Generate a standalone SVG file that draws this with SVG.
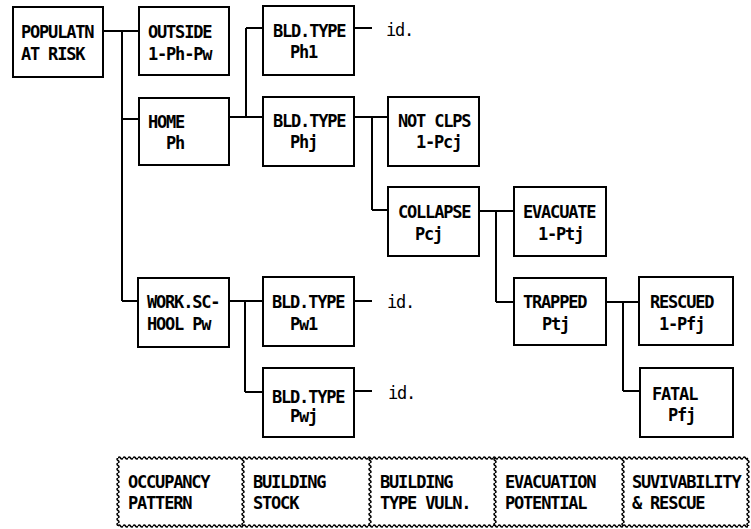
<svg xmlns="http://www.w3.org/2000/svg" width="751" height="529" viewBox="0 0 751 529">
<style>
.box{fill:#fff;stroke:#000;stroke-width:2}
.lbl{font-family:"DejaVu Sans Mono","Liberation Mono",monospace;font-weight:bold;font-size:17px;letter-spacing:-1.2px;fill:#000}
.id{font-family:"DejaVu Sans Mono","Liberation Mono",monospace;font-size:17px;letter-spacing:-1.2px;fill:#000}
.conn{fill:none;stroke:#000;stroke-width:2}
</style>
<defs>
<pattern id="waveH" patternUnits="userSpaceOnUse" x="0" y="-2" width="5" height="4">
<path d="M0,2 Q1.25,0 2.5,2 T5,2" fill="none" stroke="#000" stroke-width="1.5"/>
</pattern>
<pattern id="waveV" patternUnits="userSpaceOnUse" x="-2" y="0" width="4" height="5">
<path d="M2,0 Q0,1.25 2,2.5 T2,5" fill="none" stroke="#000" stroke-width="1.5"/>
</pattern>
</defs>
<rect width="751" height="529" fill="#fff"/>
<g id="connectors">
<path class="conn" d="M103,31 H139 M122,31 V301 M122,119 H139 M122,301 H139"/>
<path class="conn" d="M229,117 H263 M246,28 V117 M246,28 H263"/>
<path class="conn" d="M354,28 H372"/>
<path class="conn" d="M354,117 H388 M372,117 V210 M372,210 H388"/>
<path class="conn" d="M479,211 H514 M496,211 V302 M496,302 H514"/>
<path class="conn" d="M606,302 H639 M623,302 V391 M623,391 H640"/>
<path class="conn" d="M229,301 H263 M245,301 V392 M245,392 H263"/>
<path class="conn" d="M354,301 H372 M354,391 H372"/>
</g>
<g id="n-populatn"><rect class="box" x="13" y="7" width="90" height="70"/><text class="lbl" x="21" y="38">POPULATN</text><text class="lbl" x="21" y="60">AT RISK</text></g>
<g id="n-outside"><rect class="box" x="139" y="7" width="90" height="68"/><text class="lbl" x="148" y="38">OUTSIDE</text><text class="lbl" x="148" y="60">1-Ph-Pw</text></g>
<g id="n-home"><rect class="box" x="139" y="98" width="90" height="67"/><text class="lbl" x="148" y="128">HOME</text><text class="lbl" x="166" y="149">Ph</text></g>
<g id="n-ph1"><rect class="box" x="263" y="6" width="91" height="69"/><text class="lbl" x="273" y="37">BLD.TYPE</text><text class="lbl" x="290" y="58">Ph1</text></g>
<g id="id-ph1"><text class="id" x="386" y="36">id.</text></g>
<g id="n-phj"><rect class="box" x="263" y="97" width="91" height="69"/><text class="lbl" x="273" y="127">BLD.TYPE</text><text class="lbl" x="290" y="148">Phj</text></g>
<g id="n-notclps"><rect class="box" x="388" y="97" width="91" height="69"/><text class="lbl" x="398" y="127">NOT CLPS</text><text class="lbl" x="416" y="148">1-Pcj</text></g>
<g id="n-collapse"><rect class="box" x="388" y="187" width="91" height="69"/><text class="lbl" x="398" y="218">COLLAPSE</text><text class="lbl" x="415" y="240">Pcj</text></g>
<g id="n-evacuate"><rect class="box" x="514" y="187" width="92" height="69"/><text class="lbl" x="523" y="218">EVACUATE</text><text class="lbl" x="538" y="240">1-Ptj</text></g>
<g id="n-trapped"><rect class="box" x="514" y="278" width="92" height="67"/><text class="lbl" x="523" y="308">TRAPPED</text><text class="lbl" x="542" y="330">Ptj</text></g>
<g id="n-rescued"><rect class="box" x="639" y="277" width="94" height="68"/><text class="lbl" x="650" y="308">RESCUED</text><text class="lbl" x="659" y="330">1-Pfj</text></g>
<g id="n-fatal"><rect class="box" x="640" y="368" width="93" height="69"/><text class="lbl" x="652" y="400">FATAL</text><text class="lbl" x="668" y="421">Pfj</text></g>
<g id="n-work"><rect class="box" x="138" y="278" width="91" height="69"/><text class="lbl" x="147" y="308">WORK.SC-</text><text class="lbl" x="147" y="330">HOOL Pw</text></g>
<g id="n-pw1"><rect class="box" x="263" y="277" width="91" height="69"/><text class="lbl" x="272" y="308">BLD.TYPE</text><text class="lbl" x="290" y="330">Pw1</text></g>
<g id="id-pw1"><text class="id" x="387" y="308">id.</text></g>
<g id="n-pwj"><rect class="box" x="263" y="368" width="91" height="69"/><text class="lbl" x="272" y="403">BLD.TYPE</text><text class="lbl" x="290" y="422">Pwj</text></g>
<g id="id-pwj"><text class="id" x="388" y="399">id.</text></g>
<g id="legend">
<rect transform="translate(118,458)" x="0" y="-2" width="630" height="4" fill="url(#waveH)"/>
<rect transform="translate(118,526)" x="0" y="-2" width="630" height="4" fill="url(#waveH)"/>
<rect transform="translate(118,458)" x="-2" y="0" width="4" height="68" fill="url(#waveV)"/>
<rect transform="translate(243,458)" x="-2" y="0" width="4" height="68" fill="url(#waveV)"/>
<rect transform="translate(370,458)" x="-2" y="0" width="4" height="68" fill="url(#waveV)"/>
<rect transform="translate(495,458)" x="-2" y="0" width="4" height="68" fill="url(#waveV)"/>
<rect transform="translate(623,458)" x="-2" y="0" width="4" height="68" fill="url(#waveV)"/>
<rect transform="translate(748,458)" x="-2" y="0" width="4" height="68" fill="url(#waveV)"/>
<text class="lbl" x="128" y="488">OCCUPANCY</text><text class="lbl" x="128" y="509">PATTERN</text>
<text class="lbl" x="253" y="488">BUILDING</text><text class="lbl" x="253" y="509">STOCK</text>
<text class="lbl" x="380" y="488">BUILDING</text><text class="lbl" x="380" y="509">TYPE VULN.</text>
<text class="lbl" x="505" y="488">EVACUATION</text><text class="lbl" x="505" y="509">POTENTIAL</text>
<text class="lbl" x="632" y="488">SUVIVABILITY</text><text class="lbl" x="632" y="509">&amp; RESCUE</text>
</g>
</svg>
